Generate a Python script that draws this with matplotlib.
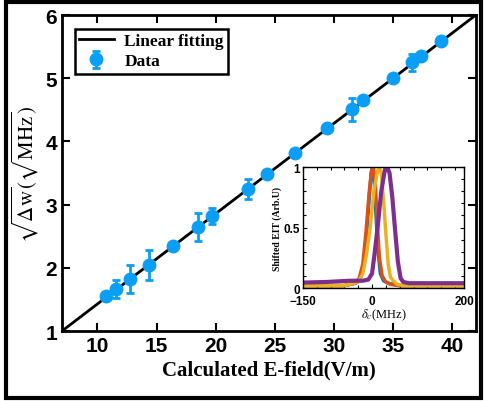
import numpy as np
import matplotlib
matplotlib.use("Agg")
import matplotlib.pyplot as plt
from matplotlib.patches import Rectangle
from matplotlib.ticker import MultipleLocator

# main data: sqrt of splitting vs calculated field
efield = [10.76, 11.6, 12.73, 14.33, 16.38, 18.49, 19.7, 22.71, 24.34, 26.7,
          29.4, 31.5, 32.5, 35.0, 36.6, 37.4, 39.07]
sqrt_dw = [1.55, 1.67, 1.83, 2.05, 2.35, 2.65, 2.82, 3.25, 3.49, 3.82,
           4.21, 4.51, 4.65, 5.01, 5.25, 5.36, 5.59]
err = [0.02, 0.14, 0.22, 0.24, 0.02, 0.22, 0.12, 0.16, 0.02, 0.02,
       0.04, 0.18, 0.04, 0.06, 0.13, 0.03, 0.02]
fit_x = [7, 42]
fit_y = [1, 6]

# inset traces
delta_blue = [-150, -60, -35, -25, -18, -12, -6, -2, 1, 4, 8, 12, 18, 25, 35, 60, 200]
eit_blue = [0.02, 0.02, 0.04, 0.08, 0.2, 0.45, 0.75, 0.95, 1.0, 0.93, 0.65, 0.35, 0.12, 0.06, 0.04, 0.02, 0.02]
delta_orange = [-150, -60, -38, -28, -20, -13, -6, -1, 3, 7, 11, 16, 22, 30, 40, 60, 200]
eit_orange = [0.02, 0.02, 0.04, 0.08, 0.2, 0.47, 0.8, 0.97, 1.0, 0.88, 0.55, 0.25, 0.1, 0.05, 0.03, 0.02, 0.02]
delta_yellow = [-150, -60, -30, -20, -12, -4, 4, 12, 16, 20, 25, 30, 35, 40, 46, 55, 70, 200]
eit_yellow = [0.02, 0.02, 0.05, 0.12, 0.28, 0.5, 0.8, 0.97, 1.0, 0.95, 0.72, 0.45, 0.2, 0.09, 0.06, 0.03, 0.02, 0.02]
delta_purple = [-150, -100, -50, -20, -8, 0, 6, 12, 20, 28, 33, 38, 44, 50, 56, 62, 68, 80, 120, 200]
eit_purple = [0.045, 0.05, 0.06, 0.06, 0.07, 0.12, 0.3, 0.5, 0.8, 0.98, 1.0, 0.95, 0.75, 0.48, 0.22, 0.08, 0.05, 0.04, 0.04, 0.04]

plt.rcParams['mathtext.fontset'] = 'stix'
sans = 'Liberation Sans'
serif = 'Liberation Serif'

fig = plt.figure(figsize=(4.84, 4.02), dpi=100)
fig.patches.append(Rectangle((0.012, 0.008), 0.982, 0.985, transform=fig.transFigure,
                             fill=False, edgecolor='black', linewidth=3))

ax = fig.add_axes([0.128, 0.174, 0.855, 0.786])
ax.plot(fit_x, fit_y, color='black', lw=2, label='Linear fitting', zorder=2)
ax.errorbar(efield, sqrt_dw, yerr=err, fmt='o', color='#0A9FF5', ms=9, elinewidth=2,
            capsize=3, capthick=2, label='Data', zorder=3)
ax.set_xlim(7, 42)
ax.set_ylim(1, 6)
ax.set_xticks([10, 15, 20, 25, 30, 35, 40])
ax.set_yticks([1, 2, 3, 4, 5, 6])
ax.tick_params(direction='in', length=6, width=1.5, top=True, right=True, labelsize=15)
for lab in ax.get_xticklabels() + ax.get_yticklabels():
    lab.set_fontfamily(sans)
    lab.set_fontweight('bold')
for s in ax.spines.values():
    s.set_linewidth(2)
ax.set_xlabel('Calculated E-field(V/m)', fontfamily=serif, fontweight='bold', fontsize=15, labelpad=3)
ax.set_ylabel(r'$\sqrt{\Delta\mathrm{w}}(\sqrt{\mathrm{MHz}})$', fontsize=15, labelpad=3)
leg = ax.legend(loc='upper left', prop={'family': serif, 'weight': 'bold', 'size': 12.5},
                fancybox=False, framealpha=1, edgecolor='black', handlelength=2.0,
                borderpad=0.25, labelspacing=0.25, handletextpad=0.6,
                bbox_to_anchor=(0.01, 0.985))
leg.get_frame().set_linewidth(1.8)

ins = fig.add_axes([0.626, 0.281, 0.333, 0.301])
ins.plot(delta_blue, eit_blue, color='#0072BD', lw=2.5)
ins.plot(delta_orange, eit_orange, color='#D95319', lw=2.5)
ins.plot(delta_yellow, eit_yellow, color='#EDB120', lw=2.5)
ins.plot(delta_purple, eit_purple, color='#7E2F8E', lw=3)
ins.set_xlim(-150, 200)
ins.set_ylim(0, 1)
ins.set_xticks([-150, 0, 200])
ins.set_yticks([0, 0.5, 1])
ins.set_yticklabels(['0', '0.5', '1'])
ins.xaxis.set_minor_locator(MultipleLocator(30))
ins.yaxis.set_minor_locator(MultipleLocator(0.1))
ins.tick_params(which='both', direction='in', top=True, right=True, width=0.8)
ins.tick_params(which='major', length=3, labelsize=8.5, pad=2)
ins.tick_params(axis='x', which='major', pad=5)
ins.tick_params(which='minor', length=2)
for lab in ins.get_xticklabels() + ins.get_yticklabels():
    lab.set_fontfamily(sans)
    lab.set_fontweight('bold')
for s in ins.spines.values():
    s.set_linewidth(1)
ins.set_xlabel(r'$\delta_c$(MHz)', fontfamily=serif, fontsize=9, labelpad=0)
ins.set_ylabel('Shifted EIT (Arb.U)', fontfamily=serif, fontweight='bold', fontsize=7, labelpad=1)

fig.savefig('out.png', dpi=100)
